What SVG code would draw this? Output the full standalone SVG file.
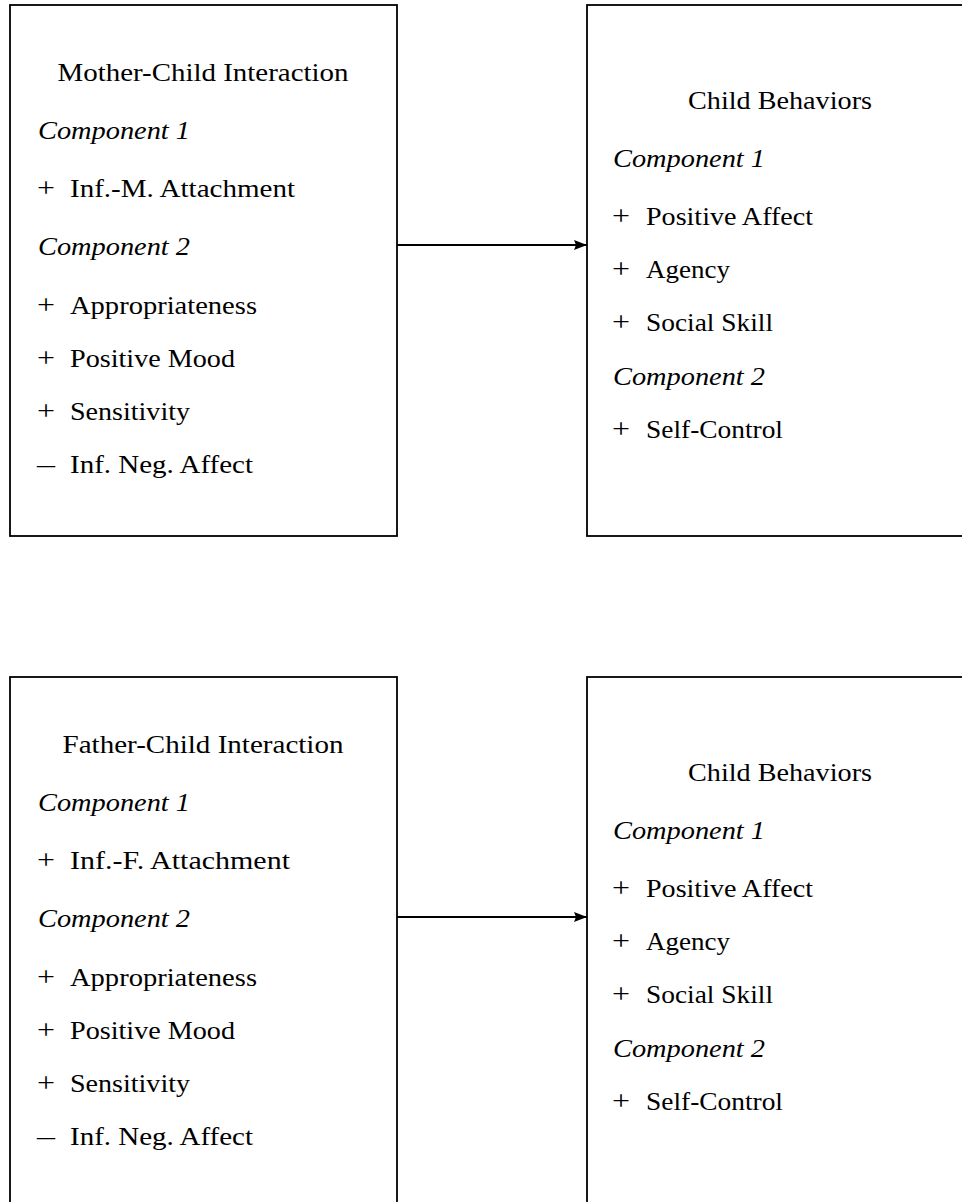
<svg xmlns="http://www.w3.org/2000/svg" width="962" height="1202" viewBox="0 0 962 1202">
<defs>
<style>
.box{fill:#fff;stroke:#000;stroke-width:1.8}
.t{font-family:"Liberation Serif","DejaVu Serif",serif;font-size:26px;fill:#000}
.s{font-family:"Liberation Serif","DejaVu Serif",serif;font-size:28px;fill:#000}
.i{font-style:italic}
.m{text-anchor:middle}
.edge{stroke:#000;stroke-width:1.8;fill:none}
</style>
<marker id="arr" viewBox="0 0 13 10" refX="13" refY="5" markerWidth="13" markerHeight="10" markerUnits="userSpaceOnUse" orient="auto">
<path d="M0,0 L13,5 L0,10 L2,5 Z" fill="#000"/>
</marker>
</defs>
<g id="mother">
<rect class="box" x="10" y="5" width="387" height="531"/>
<text class="t m" x="203" y="81" textLength="291" lengthAdjust="spacingAndGlyphs">Mother-Child Interaction</text>
<text class="t i" x="38" y="139" textLength="152" lengthAdjust="spacingAndGlyphs">Component 1</text>
<text class="s" x="37" y="197" textLength="18" lengthAdjust="spacingAndGlyphs">+</text><text class="t" x="70" y="197" textLength="225" lengthAdjust="spacingAndGlyphs">Inf.-M. Attachment</text>
<text class="t i" x="38" y="255" textLength="152" lengthAdjust="spacingAndGlyphs">Component 2</text>
<text class="s" x="37" y="314" textLength="18" lengthAdjust="spacingAndGlyphs">+</text><text class="t" x="70" y="314" textLength="187" lengthAdjust="spacingAndGlyphs">Appropriateness</text>
<text class="s" x="37" y="367" textLength="18" lengthAdjust="spacingAndGlyphs">+</text><text class="t" x="70" y="367" textLength="165" lengthAdjust="spacingAndGlyphs">Positive Mood</text>
<text class="s" x="37" y="420" textLength="18" lengthAdjust="spacingAndGlyphs">+</text><text class="t" x="70" y="420" textLength="120" lengthAdjust="spacingAndGlyphs">Sensitivity</text>
<text class="s" x="37" y="473" textLength="18" lengthAdjust="spacingAndGlyphs">–</text><text class="t" x="70" y="473" textLength="183" lengthAdjust="spacingAndGlyphs">Inf. Neg. Affect</text>
</g>
<g id="child1">
<rect class="box" x="587" y="5" width="400" height="531"/>
<text class="t m" x="780" y="109" textLength="184" lengthAdjust="spacingAndGlyphs">Child Behaviors</text>
<text class="t i" x="613" y="167" textLength="152" lengthAdjust="spacingAndGlyphs">Component 1</text>
<text class="s" x="612" y="225" textLength="18" lengthAdjust="spacingAndGlyphs">+</text><text class="t" x="646" y="225" textLength="167" lengthAdjust="spacingAndGlyphs">Positive Affect</text>
<text class="s" x="612" y="278" textLength="18" lengthAdjust="spacingAndGlyphs">+</text><text class="t" x="646" y="278" textLength="84" lengthAdjust="spacingAndGlyphs">Agency</text>
<text class="s" x="612" y="331" textLength="18" lengthAdjust="spacingAndGlyphs">+</text><text class="t" x="646" y="331" textLength="127" lengthAdjust="spacingAndGlyphs">Social Skill</text>
<text class="t i" x="613" y="385" textLength="152" lengthAdjust="spacingAndGlyphs">Component 2</text>
<text class="s" x="612" y="438" textLength="18" lengthAdjust="spacingAndGlyphs">+</text><text class="t" x="646" y="438" textLength="137" lengthAdjust="spacingAndGlyphs">Self-Control</text>
</g>
<g id="father">
<rect class="box" x="10" y="677" width="387" height="560"/>
<text class="t m" x="203" y="753" textLength="281" lengthAdjust="spacingAndGlyphs">Father-Child Interaction</text>
<text class="t i" x="38" y="811" textLength="152" lengthAdjust="spacingAndGlyphs">Component 1</text>
<text class="s" x="37" y="869" textLength="18" lengthAdjust="spacingAndGlyphs">+</text><text class="t" x="70" y="869" textLength="220" lengthAdjust="spacingAndGlyphs">Inf.-F. Attachment</text>
<text class="t i" x="38" y="927" textLength="152" lengthAdjust="spacingAndGlyphs">Component 2</text>
<text class="s" x="37" y="986" textLength="18" lengthAdjust="spacingAndGlyphs">+</text><text class="t" x="70" y="986" textLength="187" lengthAdjust="spacingAndGlyphs">Appropriateness</text>
<text class="s" x="37" y="1039" textLength="18" lengthAdjust="spacingAndGlyphs">+</text><text class="t" x="70" y="1039" textLength="165" lengthAdjust="spacingAndGlyphs">Positive Mood</text>
<text class="s" x="37" y="1092" textLength="18" lengthAdjust="spacingAndGlyphs">+</text><text class="t" x="70" y="1092" textLength="120" lengthAdjust="spacingAndGlyphs">Sensitivity</text>
<text class="s" x="37" y="1145" textLength="18" lengthAdjust="spacingAndGlyphs">–</text><text class="t" x="70" y="1145" textLength="183" lengthAdjust="spacingAndGlyphs">Inf. Neg. Affect</text>
</g>
<g id="child2">
<rect class="box" x="587" y="677" width="400" height="560"/>
<text class="t m" x="780" y="781" textLength="184" lengthAdjust="spacingAndGlyphs">Child Behaviors</text>
<text class="t i" x="613" y="839" textLength="152" lengthAdjust="spacingAndGlyphs">Component 1</text>
<text class="s" x="612" y="897" textLength="18" lengthAdjust="spacingAndGlyphs">+</text><text class="t" x="646" y="897" textLength="167" lengthAdjust="spacingAndGlyphs">Positive Affect</text>
<text class="s" x="612" y="950" textLength="18" lengthAdjust="spacingAndGlyphs">+</text><text class="t" x="646" y="950" textLength="84" lengthAdjust="spacingAndGlyphs">Agency</text>
<text class="s" x="612" y="1003" textLength="18" lengthAdjust="spacingAndGlyphs">+</text><text class="t" x="646" y="1003" textLength="127" lengthAdjust="spacingAndGlyphs">Social Skill</text>
<text class="t i" x="613" y="1057" textLength="152" lengthAdjust="spacingAndGlyphs">Component 2</text>
<text class="s" x="612" y="1110" textLength="18" lengthAdjust="spacingAndGlyphs">+</text><text class="t" x="646" y="1110" textLength="137" lengthAdjust="spacingAndGlyphs">Self-Control</text>
</g>
<g id="connectors">
<line class="edge" x1="397" y1="245" x2="587" y2="245" marker-end="url(#arr)"/>
<line class="edge" x1="397" y1="917" x2="587" y2="917" marker-end="url(#arr)"/>
</g>
</svg>
